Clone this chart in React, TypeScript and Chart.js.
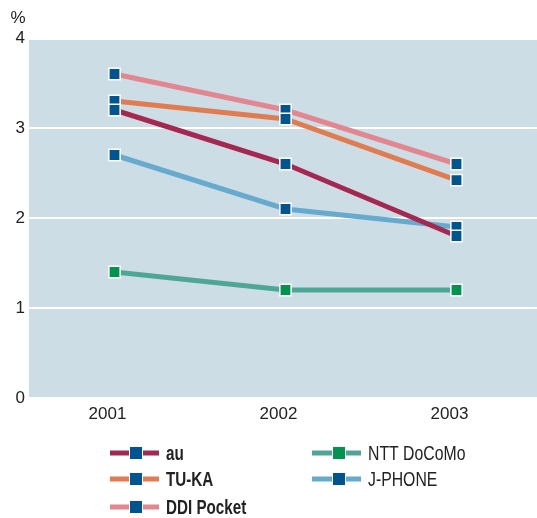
import React, { useEffect, useRef } from "react";
import { Chart, registerables } from "chart.js";

Chart.register(...registerables);

const years = ["2001", "2002", "2003"];
const auValues = [3.2, 2.6, 1.8];
const tukaValues = [3.3, 3.1, 2.42];
const ddiValues = [3.6, 3.2, 2.6];
const docomoValues = [1.4, 1.2, 1.2];
const jphoneValues = [2.7, 2.1, 1.9];
const yTicks = [0, 1, 2, 3, 4];

const seriesNames = ["au", "TU-KA", "DDI Pocket", "NTT DoCoMo", "J-PHONE"];
const lineColors = ["#a4284f", "#e07c4f", "#e2868f", "#4ea796", "#66aacd"];
const markerColors = ["#00548f", "#00548f", "#00548f", "#00944e", "#00548f"];
const boldLegend = [true, true, true, false, false];

const TICK_FONT = "'Liberation Sans', Arial, sans-serif";
const LEGEND_FONT = "'Liberation Sans', Arial, sans-serif";

const bgPlugin = {
  id: "bgPlugin",
  beforeDraw(chart: any) {
    const { ctx, chartArea } = chart;
    ctx.save();
    ctx.fillStyle = "#cddde6";
    ctx.fillRect(chartArea.left, chartArea.top + 2, chartArea.right - chartArea.left, chartArea.bottom - chartArea.top - 3);
    ctx.restore();
  },
  afterDraw(chart: any) {
    const { ctx } = chart;
    ctx.save();
    ctx.fillStyle = "#222";
    ctx.font = `17px ${TICK_FONT}`;
    ctx.textAlign = "center";
    ctx.textBaseline = "middle";
    ctx.fillText("%", 18, 18);

    // legend
    const datasets = chart.data.datasets;
    const cols = [
      { lineX: 110, markX: 136, textX: 166 },
      { lineX: 312, markX: 339, textX: 368 },
    ];
    const rows = [453, 479, 507];
    const layout = [
      [0, 0], [0, 1], [0, 2], [1, 0], [1, 1],
    ];
    datasets.forEach((ds: any, i: number) => {
      const [c, r] = layout[i];
      const col = cols[c];
      const y = rows[r];
      ctx.strokeStyle = ds.borderColor;
      ctx.lineWidth = 5;
      ctx.beginPath();
      ctx.moveTo(col.lineX, y);
      ctx.lineTo(col.lineX + 49, y);
      ctx.stroke();
      ctx.fillStyle = "#ffffff";
      ctx.fillRect(col.markX - 7, y - 7, 14, 14);
      ctx.fillStyle = ds.pointBackgroundColor;
      ctx.fillRect(col.markX - 6, y - 6, 12, 12);
      ctx.fillStyle = "#222";
      ctx.textAlign = "left";
      ctx.textBaseline = "middle";
      ctx.font = `${boldLegend[i] ? "bold " : ""}20px ${LEGEND_FONT}`;
      const w = ctx.measureText(ds.label).width;
      ctx.fillText(ds.label, col.textX, y + 1, w * (boldLegend[i] ? 0.76 : 0.79));
    });
    ctx.restore();
  },
};

export default function App() {
  const ref = useRef<HTMLCanvasElement | null>(null);
  useEffect(() => {
    if (!ref.current) return;
    const allValues = [auValues, tukaValues, ddiValues, docomoValues, jphoneValues];
    const chart = new Chart(ref.current, {
      type: "line",
      data: {
        labels: years,
        datasets: allValues.map((vals, i) => ({
          label: seriesNames[i],
          data: vals,
          borderColor: lineColors[i],
          backgroundColor: lineColors[i],
          borderWidth: 5,
          pointStyle: "rect",
          pointRadius: 8,
          pointHoverRadius: 8,
          pointBackgroundColor: markerColors[i],
          pointBorderColor: "#ffffff",
          pointBorderWidth: 1.5,
          tension: 0,
          clip: false,
        })),
      },
      options: {
        animation: false,
        responsive: false,
        events: [],
        layout: { autoPadding: false, padding: { top: 38, left: 0, right: 0, bottom: 0 } },
        plugins: {
          legend: { display: false },
          tooltip: { enabled: false },
        },
        scales: {
          x: {
            offset: true,
            grid: { display: false, drawTicks: false },
            border: { display: false },
            ticks: { color: "#222", font: { size: 17, family: TICK_FONT }, padding: 6, labelOffset: -7 },
            afterFit: (s: any) => { s.height = 120; s.paddingLeft = 0; s.paddingRight = 0; },
          },
          y: {
            min: 0,
            max: 4,
            afterBuildTicks: (s: any) => { s.ticks = yTicks.map((v) => ({ value: v })); },
            grid: {
              color: (ctx: any) => (ctx.tick && ctx.tick.value > 0 && ctx.tick.value < 4 ? "#ffffff" : "rgba(0,0,0,0)"),
              lineWidth: 2,
              drawTicks: false,
            },
            border: { display: false },
            ticks: { color: "#222", font: { size: 17, family: TICK_FONT }, padding: 4 },
            afterFit: (s: any) => { s.width = 29; },
          },
        },
      },
      plugins: [bgPlugin],
    });
    return () => chart.destroy();
  }, []);
  return (
    <div style={{ position: "absolute", left: 0, top: 0, width: 537, height: 518, overflow: "hidden", background: "#fff" }}>
      <canvas ref={ref} width={542} height={518} style={{ display: "block" }} />
    </div>
  );
}
